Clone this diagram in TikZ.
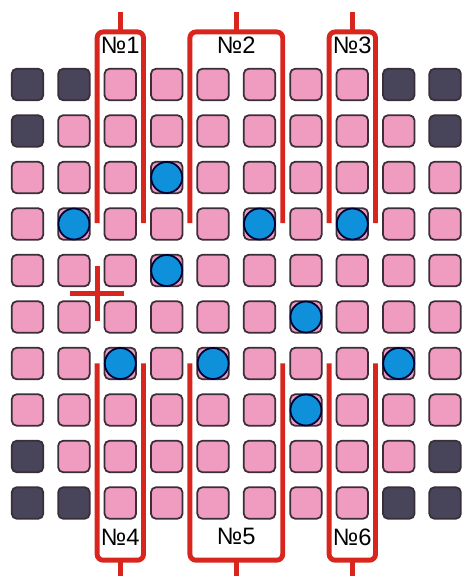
\documentclass[tikz,border=0pt]{standalone}
\usepackage{fontspec}
\setmainfont{Liberation Sans}
\usetikzlibrary{positioning}
\definecolor{cellpink}{HTML}{F09BC0}
\definecolor{celldark}{HTML}{48445A}
\definecolor{cellline}{HTML}{3A2E38}
\definecolor{markred}{HTML}{D8261E}
\definecolor{ballblue}{HTML}{0F90DA}

\begin{document}
\begin{tikzpicture}[x=0.928cm, y=-0.93cm,
  cell/.style={draw=cellline, line width=1pt, fill=cellpink, rounded corners=1mm,
    minimum size=0.63cm, inner sep=0pt},
  darkcell/.style={cell, fill=celldark},
  ball/.style={circle, draw=black!80!blue, line width=1pt, fill=ballblue,
    minimum size=0.62cm, inner sep=0pt},
  bracket/.style={draw=markred, line width=2.8pt, rounded corners=1.2mm},
  crossline/.style={draw=markred, line width=2.8pt},
  tag/.style={font=\fontsize{13.5}{13.5}\selectfont, text=black, inner sep=0pt}]
  \useasboundingbox (-0.593,-1.817) rectangle (9.407,10.570);
  % Board
  \foreach \i in {0,...,9}
    \foreach \j in {0,...,9} {
      \pgfmathtruncatemacro\dark{(\i+\j<2) || (\i+\j>16) || (\j-\i<-7) || (\i-\j<-7)}
      \ifnum\dark=1 \node[darkcell] (c\i\j) at (\i,\j) {};
      \else \node[cell] (c\i\j) at (\i,\j) {};
      \fi
    }
  % Balls
  \foreach \i/\j in {3/2,1/3,5/3,7/3,3/4,6/5,2/6,4/6,8/6,6/7}
    \node[ball] (b\i\j) at (c\i\j) {};
  % Upper brackets
  \foreach \a/\b/\n in {1.5/2.5/1, 3.5/5.5/2, 6.5/7.5/3} {
    \draw[bracket] (\a,2.98) |- (\b,-1.13) -- (\b,2.98);
    \draw[crossline] ({(\a+\b)/2},-1.13) -- ({(\a+\b)/2},-1.56);
    \node[tag] (top\n) at ({(\a+\b)/2},-0.85) {№\n};
  }
  % Lower brackets
  \foreach \a/\b/\n in {1.5/2.5/4, 3.5/5.5/5, 6.5/7.5/6} {
    \draw[bracket] (\a,6) |- (\b,10.23) -- (\b,6);
    \draw[crossline] ({(\a+\b)/2},10.23) -- ({(\a+\b)/2},10.6);
    \node[tag] (bot\n) at ({(\a+\b)/2},9.73) {№\n};
  }
  % Cross
  \coordinate (cross) at (1.5,4.5);
  \draw[crossline] ([xshift=-0.54cm]cross) -- ([xshift=0.54cm]cross);
  \draw[crossline] ([yshift=-0.55cm]cross) -- ([yshift=0.55cm]cross);
\end{tikzpicture}
\end{document}
